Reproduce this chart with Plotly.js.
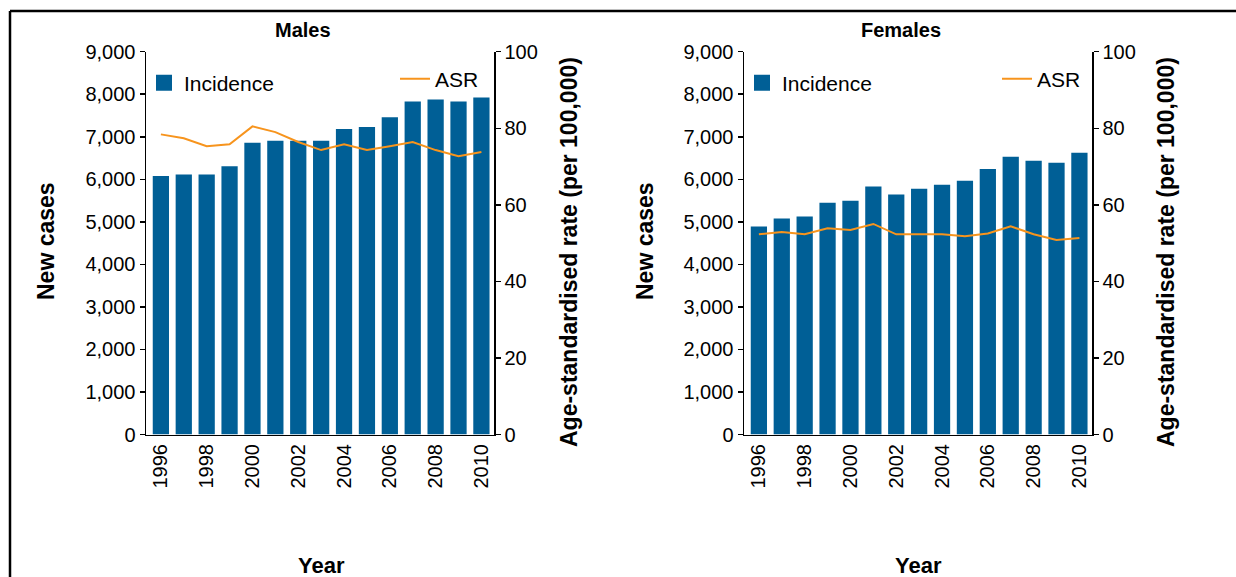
<!DOCTYPE html>
<html>
<head>
<meta charset="utf-8">
<script src="https://cdn.plot.ly/plotly-3.0.1.min.js"></script>
<style>html,body{margin:0;padding:0;background:#fff;overflow:hidden;}#chart{width:1236px;height:577px;}</style>
</head>
<body>
<div id="chart"></div>
<script>
// ---- data ----
var years = [1996,1997,1998,1999,2000,2001,2002,2003,2004,2005,2006,2007,2008,2009,2010];
var maleIncidence = [6076,6115,6115,6307,6860,6907,6907,6907,7184,7230,7460,7830,7876,7830,7922];
var maleASR = [78.4,77.4,75.3,75.8,80.5,79.0,76.4,74.3,75.8,74.3,75.3,76.4,74.3,72.7,73.8];
var femaleIncidence = [4889,5076,5123,5449,5496,5830,5643,5776,5869,5963,6243,6530,6436,6390,6623];
var femaleASR = [52.3,52.9,52.3,53.9,53.4,55.0,52.3,52.3,52.3,51.8,52.5,54.4,52.3,50.8,51.3];
var panelTitles = ['Males','Females'];
var yearTicks = [1996,1998,2000,2002,2004,2006,2008,2010];
var leftTicks = [0,1000,2000,3000,4000,5000,6000,7000,8000,9000];
var rightTicks = [0,20,40,60,80,100];

var W = 1236, H = 577;
function px(x){return x/W;}
function py(y){return 1 - y/H;}

var FONT = 'Liberation Sans, Arial, sans-serif';
var BAR = '#005f96';
var LINE = '#f7941d';
var TICKSIZE = 20;

var traces = [
  {type:'bar', x:years, y:maleIncidence, xaxis:'x', yaxis:'y', name:'Incidence', marker:{color:BAR}, showlegend:false},
  {type:'scatter', mode:'markers', x:[null], y:[null], xaxis:'x', yaxis:'y', name:'Incidence', marker:{color:BAR, symbol:'square', size:16}, legend:'legend', showlegend:true},
  {type:'scatter', mode:'lines', x:years, y:maleASR, xaxis:'x', yaxis:'y2', name:'ASR', line:{color:LINE, width:2}, legend:'legend2', showlegend:true},
  {type:'bar', x:years, y:femaleIncidence, xaxis:'x2', yaxis:'y3', name:'Incidence', marker:{color:BAR}, showlegend:false},
  {type:'scatter', mode:'markers', x:[null], y:[null], xaxis:'x2', yaxis:'y3', name:'Incidence', marker:{color:BAR, symbol:'square', size:16}, legend:'legend3', showlegend:true},
  {type:'scatter', mode:'lines', x:years, y:femaleASR, xaxis:'x2', yaxis:'y4', name:'ASR', line:{color:LINE, width:2}, legend:'legend4', showlegend:true}
];

var yDom = [py(434.5), py(51.7)];
function xAx(dom, anchor){
  return {domain:dom, anchor:anchor, range:[1995.35,2010.55], tickmode:'array', tickvals:yearTicks,
    ticktext:yearTicks.map(String), tickangle:-90, showline:true, linecolor:'#000', linewidth:1.5,
    ticks:'', showgrid:false, zeroline:false, tickfont:{size:TICKSIZE, color:'#000', family:FONT}, fixedrange:true};
}
function yLeft(anchor){
  return {domain:yDom, anchor:anchor, range:[0,9000], tickmode:'array', tickvals:leftTicks, tickformat:',',
    showline:true, linecolor:'#000', linewidth:1.5, ticks:'outside', ticklen:5, tickwidth:1.5, tickcolor:'#000',
    showgrid:false, zeroline:false, tickfont:{size:TICKSIZE, color:'#000', family:FONT}, fixedrange:true};
}
function yRight(over, anchor){
  return {overlaying:over, anchor:anchor, side:'right', range:[0,100], tickmode:'array', tickvals:rightTicks,
    showline:true, linecolor:'#000', linewidth:1.5, ticks:'outside', ticklen:5, tickwidth:1.5, tickcolor:'#000',
    showgrid:false, zeroline:false, tickfont:{size:TICKSIZE, color:'#000', family:FONT}, fixedrange:true};
}

function legendAt(x, y){
  return {x:px(x), y:py(y), xanchor:'left', yanchor:'middle', bgcolor:'rgba(0,0,0,0)',
    font:{size:21, color:'#000', family:FONT}, borderwidth:0};
}

function ann(text, x, y, angle, size){
  return {text:'<b>'+text+'</b>', x:px(x), y:py(y), xref:'paper', yref:'paper', showarrow:false,
    textangle:angle||0, xanchor:'center', yanchor:'middle',
    font:{size:size||22, color:'#000', family:FONT}};
}

var layout = {
  width:W, height:H, margin:{l:0,r:0,t:0,b:0},
  paper_bgcolor:'#fff', plot_bgcolor:'rgba(0,0,0,0)',
  font:{family:FONT, color:'#000'},
  showlegend:true,
  bargap:0.29,
  xaxis:xAx([px(146),px(494)],'y'),
  yaxis:yLeft('x'),
  yaxis2:yRight('y','x'),
  xaxis2:xAx([px(744),px(1092)],'y3'),
  yaxis3:yLeft('x2'),
  yaxis4:yRight('y3','x2'),
  legend:legendAt(144,83),
  legend2:legendAt(395,79),
  legend3:legendAt(742,83),
  legend4:legendAt(997,79),
  annotations:[
    ann(panelTitles[0],303,30,0,20),
    ann(panelTitles[1],901,30,0,20),
    ann('New cases',46,241,-90,23),
    ann('New cases',645,241,-90,23),
    ann('Age-standardised rate (per 100,000)',569,252,-90,23),
    ann('Age-standardised rate (per 100,000)',1166,252,-90,23),
    ann('Year',321,565,0,22),
    ann('Year',918,565,0,22)
  ],
  shapes:[
    {type:'line', xref:'paper', yref:'paper', x0:px(10), x1:1, y0:py(11), y1:py(11), line:{color:'#000', width:2.5}},
    {type:'line', xref:'paper', yref:'paper', x0:px(10), x1:px(10), y0:py(11), y1:0, line:{color:'#000', width:2.5}}
  ]
};

Plotly.newPlot('chart', traces, layout, {displayModeBar:false, staticPlot:true});
</script>
</body>
</html>
